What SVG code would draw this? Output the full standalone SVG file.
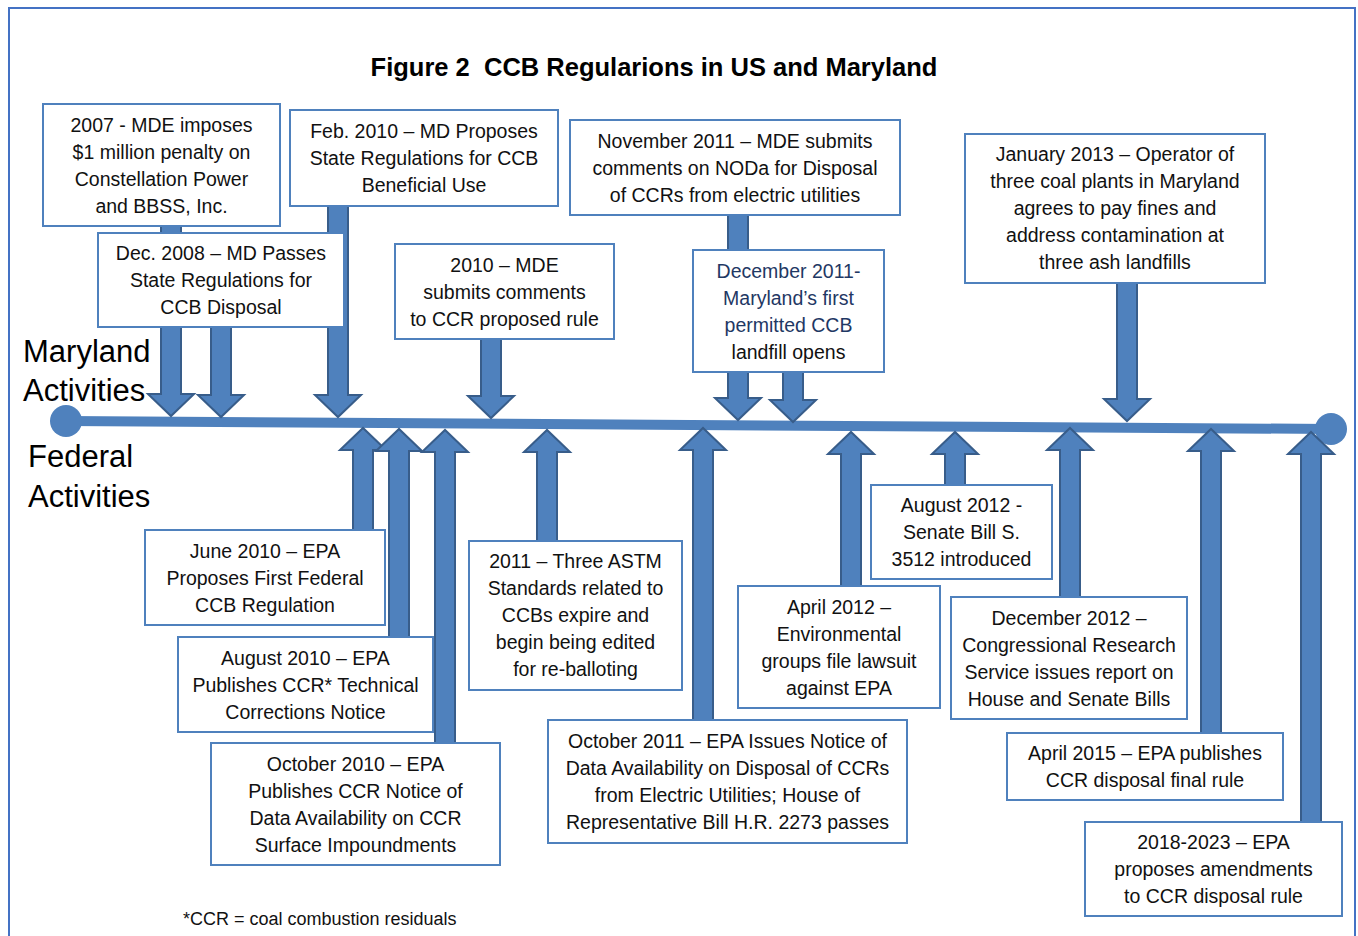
<svg xmlns="http://www.w3.org/2000/svg" width="1358" height="936" viewBox="0 0 1358 936">
<style>
.bx{fill:#fff;stroke:#4F81BD;stroke-width:2}
.t{font-family:"Liberation Sans",Arial,sans-serif;font-size:19.5px;fill:#111;text-anchor:middle}
.nv{fill:#1F3864}
.ar{fill:#4F81BD;stroke:#385D8A;stroke-width:2;stroke-linejoin:miter}
.side{font-family:"Liberation Sans",Arial,sans-serif;font-size:31px;fill:#000}
</style>
<rect x="0" y="0" width="1358" height="936" fill="#fff"/>
<rect x="9" y="8" width="1346" height="940" fill="none" stroke="#4472C4" stroke-width="2"/>
<text x="654" y="76" font-family="'Liberation Sans',Arial,sans-serif" font-size="25.5px" font-weight="bold" text-anchor="middle" fill="#000" xml:space="preserve" style="white-space:pre">Figure 2  CCB Regularions in US and Maryland</text>
<text class="side" x="23" y="362">Maryland</text>
<text class="side" x="23" y="401">Activities</text>
<text class="side" x="28" y="467">Federal</text>
<text class="side" x="28" y="507">Activities</text>

<g id="timeline">
<line x1="66" y1="421" x2="1331" y2="429" stroke="#4F81BD" stroke-width="10"/>
<circle cx="66" cy="421" r="16" fill="#4F81BD"/>
<circle cx="1331" cy="429" r="16" fill="#4F81BD"/>
</g>

<g id="connectors">
<path class="ar" d="M161,200 H181 V394 H194 L171,416 L148,394 H161 Z"/>
<path class="ar" d="M211,300 H231 V395 H244 L221,417 L198,395 H211 Z"/>
<path class="ar" d="M328,190 H348 V395 H361 L338,417 L315,395 H328 Z"/>
<path class="ar" d="M481,320 H501 V396 H514 L491,418 L468,396 H481 Z"/>
<path class="ar" d="M728,200 H748 V398 H761 L738,420 L715,398 H728 Z"/>
<path class="ar" d="M783,350 H803 V400 H816 L793,422 L770,400 H783 Z"/>
<path class="ar" d="M1117,270 H1137 V399 H1150 L1127,421 L1104,399 H1117 Z"/>
<path class="ar" d="M353,550 H373 V450 H386 L363,428 L340,450 H353 Z"/>
<path class="ar" d="M389,650 H409 V451 H422 L399,429 L376,451 H389 Z"/>
<path class="ar" d="M435,760 H455 V452 H468 L445,430 L422,452 H435 Z"/>
<path class="ar" d="M537,560 H557 V452 H570 L547,430 L524,452 H537 Z"/>
<path class="ar" d="M693,740 H713 V450 H726 L703,428 L680,450 H693 Z"/>
<path class="ar" d="M841,600 H861 V454 H874 L851,432 L828,454 H841 Z"/>
<path class="ar" d="M945,500 H965 V454 H978 L955,432 L932,454 H945 Z"/>
<path class="ar" d="M1060,610 H1080 V450 H1093 L1070,428 L1047,450 H1060 Z"/>
<path class="ar" d="M1201,750 H1221 V451 H1234 L1211,429 L1188,451 H1201 Z"/>
<path class="ar" d="M1301,840 H1321 V454 H1334 L1311,432 L1288,454 H1301 Z"/>
</g>

<g id="nA"><rect class="bx" x="43" y="104" width="237" height="122"/>
<text class="t"><tspan x="161.5" y="132">2007 - MDE imposes</tspan><tspan x="161.5" y="159">$1 million penalty on</tspan><tspan x="161.5" y="186">Constellation Power</tspan><tspan x="161.5" y="213">and BBSS, Inc.</tspan></text></g>

<g id="nB"><rect class="bx" x="98" y="233" width="246" height="94"/>
<text class="t"><tspan x="221" y="260">Dec. 2008 – MD Passes</tspan><tspan x="221" y="287">State Regulations for</tspan><tspan x="221" y="314">CCB Disposal</tspan></text></g>

<g id="nC"><rect class="bx" x="290" y="110" width="268" height="96"/>
<text class="t"><tspan x="424" y="138">Feb. 2010 – MD Proposes</tspan><tspan x="424" y="165">State Regulations for CCB</tspan><tspan x="424" y="192">Beneficial Use</tspan></text></g>

<g id="nD"><rect class="bx" x="395" y="244" width="219" height="95"/>
<text class="t"><tspan x="504.5" y="272">2010 – MDE</tspan><tspan x="504.5" y="299">submits comments</tspan><tspan x="504.5" y="326">to CCR proposed rule</tspan></text></g>

<g id="nE"><rect class="bx" x="570" y="120" width="330" height="95"/>
<text class="t"><tspan x="735" y="148">November 2011 – MDE submits</tspan><tspan x="735" y="175">comments on NODa for Disposal</tspan><tspan x="735" y="202">of CCRs from electric utilities</tspan></text></g>

<g id="nF"><rect class="bx" x="693" y="250" width="191" height="122"/>
<text class="t"><tspan class="nv" x="788.5" y="278">December 2011-</tspan><tspan class="nv" x="788.5" y="305">Maryland’s first</tspan><tspan class="nv" x="788.5" y="332">permitted CCB</tspan><tspan x="788.5" y="359">landfill opens</tspan></text></g>

<g id="nG"><rect class="bx" x="965" y="134" width="300" height="149"/>
<text class="t"><tspan x="1115" y="161">January 2013 – Operator of</tspan><tspan x="1115" y="188">three coal plants in Maryland</tspan><tspan x="1115" y="215">agrees to pay fines and</tspan><tspan x="1115" y="242">address contamination at</tspan><tspan x="1115" y="269">three ash landfills</tspan></text></g>

<g id="nH"><rect class="bx" x="145" y="530" width="240" height="95"/>
<text class="t"><tspan x="265" y="558">June 2010 – EPA</tspan><tspan x="265" y="585">Proposes First Federal</tspan><tspan x="265" y="612">CCB Regulation</tspan></text></g>

<g id="nI"><rect class="bx" x="178" y="637" width="255" height="95"/>
<text class="t"><tspan x="305.5" y="665">August 2010 – EPA</tspan><tspan x="305.5" y="692">Publishes CCR* Technical</tspan><tspan x="305.5" y="719">Corrections Notice</tspan></text></g>

<g id="nJ"><rect class="bx" x="211" y="743" width="289" height="122"/>
<text class="t"><tspan x="355.5" y="771">October 2010 – EPA</tspan><tspan x="355.5" y="798">Publishes CCR Notice of</tspan><tspan x="355.5" y="825">Data Availability on CCR</tspan><tspan x="355.5" y="852">Surface Impoundments</tspan></text></g>

<g id="nK"><rect class="bx" x="469" y="541" width="213" height="149"/>
<text class="t"><tspan x="575.5" y="568">2011 – Three ASTM</tspan><tspan x="575.5" y="595">Standards related to</tspan><tspan x="575.5" y="622">CCBs expire and</tspan><tspan x="575.5" y="649">begin being edited</tspan><tspan x="575.5" y="676">for re-balloting</tspan></text></g>

<g id="nL"><rect class="bx" x="548" y="720" width="359" height="123"/>
<text class="t"><tspan x="727.5" y="748">October 2011 – EPA Issues Notice of</tspan><tspan x="727.5" y="775">Data Availability on Disposal of CCRs</tspan><tspan x="727.5" y="802">from Electric Utilities; House of</tspan><tspan x="727.5" y="829">Representative Bill H.R. 2273 passes</tspan></text></g>

<g id="nM"><rect class="bx" x="738" y="586" width="202" height="122"/>
<text class="t"><tspan x="839" y="614">April 2012 –</tspan><tspan x="839" y="641">Environmental</tspan><tspan x="839" y="668">groups file lawsuit</tspan><tspan x="839" y="695">against EPA</tspan></text></g>

<g id="nN"><rect class="bx" x="871" y="485" width="181" height="94"/>
<text class="t"><tspan x="961.5" y="512">August 2012 -</tspan><tspan x="961.5" y="539">Senate Bill S.</tspan><tspan x="961.5" y="566">3512 introduced</tspan></text></g>

<g id="nO"><rect class="bx" x="951" y="597" width="236" height="122"/>
<text class="t"><tspan x="1069" y="625">December 2012 –</tspan><tspan x="1069" y="652">Congressional Research</tspan><tspan x="1069" y="679">Service issues report on</tspan><tspan x="1069" y="706">House and Senate Bills</tspan></text></g>

<g id="nP"><rect class="bx" x="1007" y="733" width="276" height="67"/>
<text class="t"><tspan x="1145" y="760">April 2015 – EPA publishes</tspan><tspan x="1145" y="787">CCR disposal final rule</tspan></text></g>

<g id="nQ"><rect class="bx" x="1085" y="822" width="257" height="94"/>
<text class="t"><tspan x="1213.5" y="849">2018-2023 – EPA</tspan><tspan x="1213.5" y="876">proposes amendments</tspan><tspan x="1213.5" y="903">to CCR disposal rule</tspan></text></g>

<text x="183" y="925" font-family="'Liberation Sans',Arial,sans-serif" font-size="18px" fill="#111">*CCR = coal combustion residuals</text>
</svg>
